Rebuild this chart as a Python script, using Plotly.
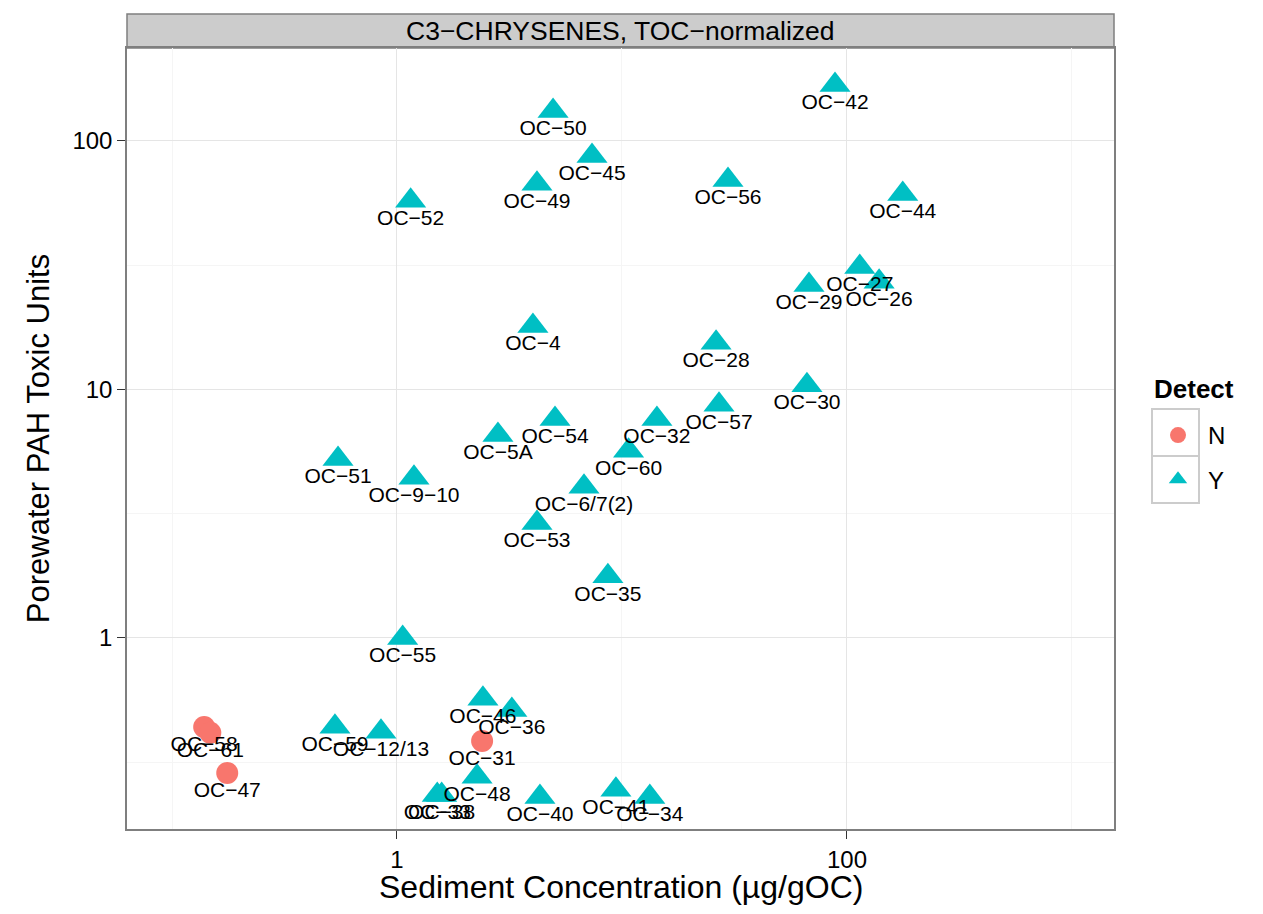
import plotly.graph_objects as go

# ---- data ----
sites = ["OC−42", "OC−50", "OC−45", "OC−49", "OC−56", "OC−44", "OC−52", "OC−27",
         "OC−26", "OC−29", "OC−4", "OC−28", "OC−30", "OC−57", "OC−54", "OC−32",
         "OC−5A", "OC−60", "OC−51", "OC−9−10", "OC−6/7(2)", "OC−53", "OC−35", "OC−55",
         "OC−46", "OC−36", "OC−59", "OC−12/13", "OC−48", "OC−33", "OC−38", "OC−40",
         "OC−41", "OC−34", "OC−31", "OC−58", "OC−61", "OC−47"]
sed_conc = [88.5, 4.94, 7.36, 4.19, 29.6, 177, 1.15, 114,
            139, 67.8, 4.02, 26.2, 66.4, 27.0, 5.04, 14.3,
            2.81, 10.7, 0.547, 1.19, 6.78, 4.19, 8.66, 1.06,
            2.41, 3.24, 0.530, 0.849, 2.27, 1.51, 1.58, 4.32,
            9.4, 13.3, 2.39, 0.139, 0.148, 0.176]
tox_units = [168, 132, 87, 67.2, 69.7, 61.2, 57.4, 31.1,
             27.1, 26.3, 18.0, 15.4, 10.4, 8.67, 7.61, 7.61,
             6.56, 5.66, 5.25, 4.41, 4.06, 2.90, 1.77, 1.00,
             0.569, 0.513, 0.439, 0.419, 0.276, 0.233, 0.233, 0.229,
             0.245, 0.229, 0.385, 0.438, 0.415, 0.286]
detect = ["Y"] * 34 + ["N"] * 4

x_tickvals = [1, 100]
x_ticktext = ["1", "100"]
x_minor = [0.1, 10, 1000]
y_tickvals = [1, 10, 100]
y_ticktext = ["1", "10", "100"]
y_minor = [0.316, 3.16, 31.6]

FONT = "Liberation Sans, Arial, Helvetica, sans-serif"
styles = {"N": dict(symbol="circle", color="#F8766D", size=22),
          "Y": dict(symbol="triangle-up", color="#00BFC4", size=27)}

fig = go.Figure()
for grp in ["N", "Y"]:
    idx = [i for i, d in enumerate(detect) if d == grp]
    fig.add_trace(go.Scatter(
        x=[sed_conc[i] for i in idx], y=[tox_units[i] for i in idx],
        mode="markers", name=grp, legendgroup=grp,
        marker=dict(symbol=styles[grp]["symbol"], color=styles[grp]["color"],
                    size=styles[grp]["size"], line=dict(width=0)),
        hovertext=[sites[i] for i in idx],
    ))

# labels on top of all points
fig.add_trace(go.Scatter(
    x=sed_conc, y=tox_units, text=sites, mode="markers+text",
    textposition="bottom center",
    marker=dict(size=12, color="rgba(0,0,0,0)"),
    textfont=dict(family=FONT, size=21, color="black"),
    showlegend=False, hoverinfo="skip",
))

W, H = 1263, 914
# page is rendered with an ~7px body offset; compensate
L, T = 119, 40
PW, PH = 987, 781
R = W - L - PW
B = H - T - PH


def px_x(px):
    return (px - 126) / PW


def px_y(py):
    return (828 - py) / PH


axis_common = dict(
    type="log", showline=True, mirror=True, linecolor="#7F7F7F", linewidth=1.5,
    ticks="outside", ticklen=8, tickwidth=1.3, tickcolor="#333333",
    gridcolor="#E5E5E5", gridwidth=1.2, zeroline=False,
    tickfont=dict(family=FONT, size=24, color="black"),
)

key_line = dict(color="#CCCCCC", width=2)
shapes = [
    dict(type="rect", xref="paper", yref="paper", x0=0, x1=1,
         y0=1, y1=1 + 34 / PH, fillcolor="#CCCCCC",
         line=dict(color="#7F7F7F", width=1.5), layer="below"),
    dict(type="rect", xref="paper", yref="paper", x0=px_x(1151), x1=px_x(1198),
         y0=px_y(455), y1=px_y(408), line=key_line, fillcolor="white", layer="below"),
    dict(type="rect", xref="paper", yref="paper", x0=px_x(1151), x1=px_x(1198),
         y0=px_y(502), y1=px_y(455), line=key_line, fillcolor="white", layer="below"),
]

annotations = [
    dict(text="C3−CHRYSENES, TOC−normalized", xref="paper", yref="paper",
         x=0.5, y=1 + 17 / PH, xanchor="center", yanchor="middle",
         showarrow=False, font=dict(family=FONT, size=26.5, color="black")),
    dict(text="Sediment Concentration (µg/gOC)", xref="paper", yref="paper",
         x=0.5, y=px_y(886), xanchor="center", yanchor="middle",
         showarrow=False, font=dict(family=FONT, size=32, color="black")),
    dict(text="<b>Detect</b>", xref="paper", yref="paper",
         x=px_x(1151), y=px_y(388), xanchor="left", yanchor="middle",
         showarrow=False, font=dict(family=FONT, size=26, color="black")),
]

fig.update_layout(
    width=W, height=H, margin=dict(l=L, r=R, t=T, b=B, autoexpand=False),
    paper_bgcolor="white", plot_bgcolor="white",
    font=dict(family=FONT, color="black"),
    xaxis=dict(axis_common, range=[-1.2, 3.187], tickmode="array",
               tickvals=x_tickvals, ticktext=x_ticktext,
               minor=dict(tickvals=x_minor, showgrid=True, gridcolor="#F5F5F5", gridwidth=1.2, ticks="")),
    yaxis=dict(axis_common, range=[-0.769, 2.374], tickmode="array",
               tickvals=y_tickvals, ticktext=y_ticktext,
               minor=dict(tickvals=y_minor, showgrid=True, gridcolor="#F5F5F5", gridwidth=1.2, ticks=""),
               title=dict(text="Porewater PAH Toxic Units",
                          font=dict(family=FONT, size=31), standoff=14)),
    legend=dict(
        font=dict(family=FONT, size=24),
        x=px_x(1147), xanchor="left", y=px_y(412), yanchor="top",
        tracegroupgap=10, itemsizing="trace", itemwidth=50,
        bgcolor="rgba(0,0,0,0)",
    ),
    shapes=shapes,
    annotations=annotations,
)

fig.write_html("out.html")
